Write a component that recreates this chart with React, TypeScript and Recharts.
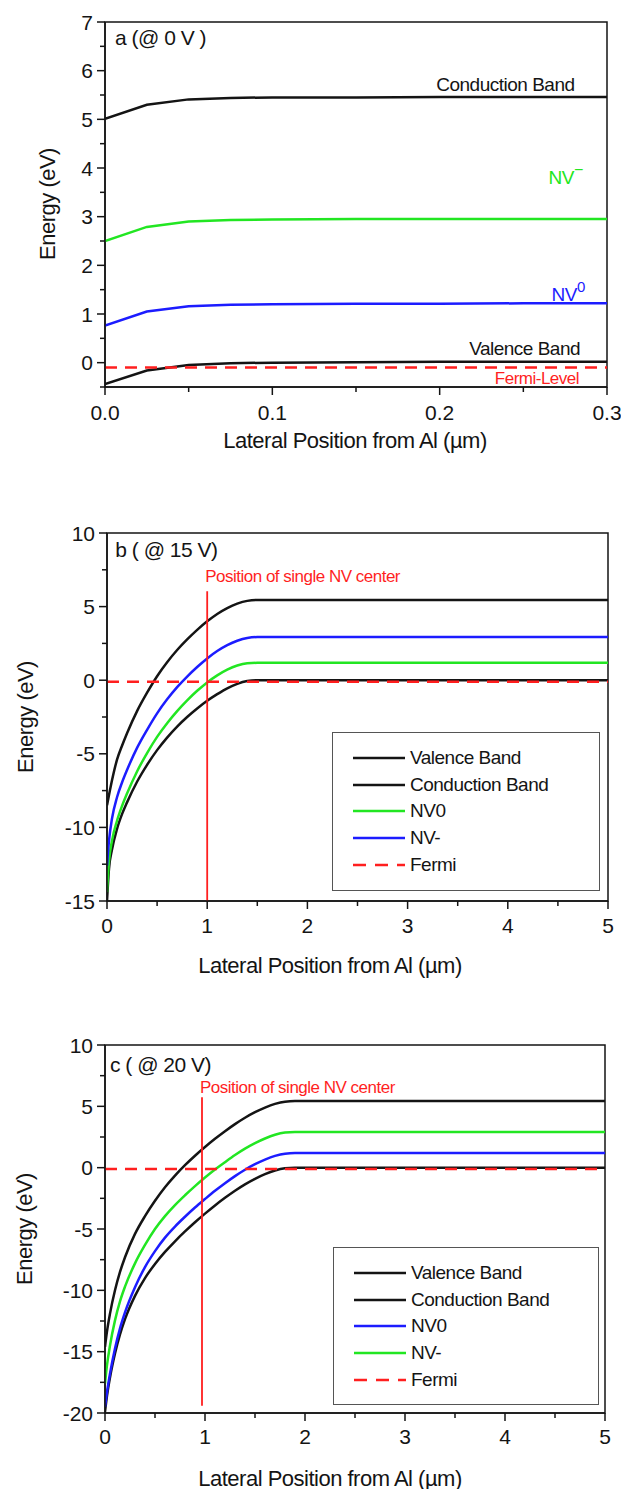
import React from 'react';
import { LineChart, Line, XAxis, YAxis, ReferenceArea, ReferenceDot, ReferenceLine, Legend } from 'recharts';

const FONT = '"Liberation Sans", Arial, Helvetica, sans-serif';
const INK = '#141414';
const GREEN = '#22e622';
const BLUE = '#1c1cff';
const RED = '#ff1f1f';

// ---- a (@ 0 V) ----
const posA = [0, 0.025, 0.05, 0.075, 0.1, 0.15, 0.2, 0.25, 0.3];
const cbA = [5.01, 5.3, 5.41, 5.44, 5.45, 5.45, 5.46, 5.46, 5.46];
const nvmA = [2.5, 2.79, 2.9, 2.93, 2.94, 2.95, 2.95, 2.95, 2.95];
const nv0A = [0.76, 1.05, 1.16, 1.19, 1.2, 1.21, 1.21, 1.22, 1.22];
const vbA = [-0.44, -0.16, -0.05, -0.01, 0, 0.01, 0.02, 0.02, 0.02];
const fermiA = [-0.1, -0.1, -0.1, -0.1, -0.1, -0.1, -0.1, -0.1, -0.1];

// ---- b (@ 15 V) ----
const posB = [0, 0.02, 0.05, 0.1, 0.15, 0.2, 0.3, 0.4, 0.5, 0.6, 0.7, 0.8, 0.9, 1.0, 1.1, 1.2, 1.3, 1.4, 1.5, 2, 3, 4, 5];
const cbB = [-8.5, -7.8, -6.8, -5.4, -4.45, -3.6, -2.1, -0.85, 0.27, 1.22, 2.05, 2.77, 3.42, 4.0, 4.5, 4.9, 5.2, 5.39, 5.45, 5.45, 5.45, 5.45, 5.45];
const nvmB = [-12.6, -10.9, -9.4, -7.95, -6.95, -6.1, -4.6, -3.37, -2.25, -1.3, -0.47, 0.25, 0.9, 1.48, 1.98, 2.38, 2.68, 2.87, 2.93, 2.93, 2.93, 2.93, 2.93];
const nv0B = [-14.4, -12.3, -10.9, -9.55, -8.55, -7.7, -6.2, -4.95, -3.85, -2.92, -2.1, -1.37, -0.72, -0.15, 0.33, 0.72, 1.0, 1.15, 1.18, 1.18, 1.18, 1.18, 1.18];
const vbB = [-15.0, -12.8, -11.5, -10.1, -9.1, -8.3, -6.9, -5.75, -4.75, -3.9, -3.15, -2.5, -1.92, -1.4, -0.95, -0.55, -0.25, -0.06, 0, 0, 0, 0, 0];
const fermiB = [-0.1, -0.1, -0.1, -0.1, -0.1, -0.1, -0.1, -0.1, -0.1, -0.1, -0.1, -0.1, -0.1, -0.1, -0.1, -0.1, -0.1, -0.1, -0.1, -0.1, -0.1, -0.1, -0.1];

// ---- c (@ 20 V) ----
const posC = [0, 0.02, 0.05, 0.1, 0.15, 0.2, 0.3, 0.4, 0.5, 0.6, 0.7, 0.8, 0.9, 1.0, 1.1, 1.2, 1.3, 1.4, 1.5, 1.6, 1.7, 1.8, 1.9, 2, 3, 4, 5];
const cbC = [-14.6, -13.35, -11.9, -10.0, -8.5, -7.3, -5.4, -3.95, -2.7, -1.6, -0.65, 0.2, 0.97, 1.68, 2.35, 2.97, 3.55, 4.07, 4.52, 4.9, 5.2, 5.38, 5.43, 5.43, 5.43, 5.43, 5.43];
const nvmC = [-17.6, -16.1, -14.5, -12.45, -10.9, -9.7, -7.8, -6.3, -5.0, -3.95, -3.05, -2.25, -1.5, -0.8, -0.15, 0.45, 1.03, 1.55, 2.0, 2.38, 2.68, 2.86, 2.91, 2.91, 2.91, 2.91, 2.91];
const nv0C = [-19.5, -18.3, -16.8, -14.75, -13.1, -11.8, -9.75, -8.1, -6.8, -5.7, -4.8, -4.0, -3.25, -2.56, -1.89, -1.27, -0.69, -0.17, 0.28, 0.66, 0.96, 1.14, 1.19, 1.19, 1.19, 1.19, 1.19];
const vbC = [-19.9, -18.6, -17.1, -15.15, -13.6, -12.35, -10.45, -9.0, -7.85, -6.87, -6.0, -5.2, -4.45, -3.75, -3.08, -2.46, -1.88, -1.36, -0.91, -0.53, -0.23, -0.05, 0, 0, 0, 0, 0];
const fermiC = [-0.1, -0.1, -0.1, -0.1, -0.1, -0.1, -0.1, -0.1, -0.1, -0.1, -0.1, -0.1, -0.1, -0.1, -0.1, -0.1, -0.1, -0.1, -0.1, -0.1, -0.1, -0.1, -0.1, -0.1, -0.1, -0.1, -0.1];

// ticks
const xTicksA = [0, 0.05, 0.1, 0.15, 0.2, 0.25, 0.3];
const xMajorA = [0, 0.1, 0.2, 0.3];
const yTicksA = [-0.5, 0, 0.5, 1, 1.5, 2, 2.5, 3, 3.5, 4, 4.5, 5, 5.5, 6, 6.5, 7];
const yMajorA = [0, 1, 2, 3, 4, 5, 6, 7];
const xTicksBC = [0, 0.5, 1, 1.5, 2, 2.5, 3, 3.5, 4, 4.5, 5];
const xMajorBC = [0, 1, 2, 3, 4, 5];
const yTicksB = [-15, -12.5, -10, -7.5, -5, -2.5, 0, 2.5, 5, 7.5, 10];
const yMajorB = [-15, -10, -5, 0, 5, 10];
const yTicksC = [-20, -17.5, -15, -12.5, -10, -7.5, -5, -2.5, 0, 2.5, 5, 7.5, 10];
const yMajorC = [-20, -15, -10, -5, 0, 5, 10];

const legendB = [
  { name: 'Valence Band', color: INK },
  { name: 'Conduction Band', color: INK },
  { name: 'NV0', color: GREEN },
  { name: 'NV-', color: BLUE },
  { name: 'Fermi', color: RED, dash: '13 9' },
];
const legendC = [
  { name: 'Valence Band', color: INK },
  { name: 'Conduction Band', color: INK },
  { name: 'NV0', color: BLUE },
  { name: 'NV-', color: GREEN },
  { name: 'Fermi', color: RED, dash: '13 9' },
];

const toRows = (xs: number[], vb: number[], cb: number[], nv0: number[], nvm: number[], fermi: number[]) =>
  xs.map((x, i) => ({ x, vb: vb[i], cb: cb[i], nv0: nv0[i], nvm: nvm[i], fermi: fermi[i] }));

const near = (list: number[], v: number) => list.some((m) => Math.abs(m - v) < 1e-6);

const xTick = (major: number[], digits: number, dy: number) => (p: any) => {
  const v = p.payload.value;
  const big = near(major, v);
  return (
    <g>
      <line x1={p.x} x2={p.x} y1={p.y} y2={p.y + (big ? 8 : 5)} stroke={INK} strokeWidth={1.5} />
      {big && (
        <text x={p.x} y={p.y + dy} textAnchor="middle" dominantBaseline="central" fontSize={21} fontFamily={FONT} fill={INK}>
          {v.toFixed(digits)}
        </text>
      )}
    </g>
  );
};

const yTick = (major: number[]) => (p: any) => {
  const v = p.payload.value;
  const big = near(major, v);
  return (
    <g>
      <line x1={p.x - (big ? 8 : 5)} x2={p.x} y1={p.y} y2={p.y} stroke={INK} strokeWidth={1.5} />
      {big && (
        <text x={p.x - 12} y={p.y} textAnchor="end" dominantBaseline="central" fontSize={21} fontFamily={FONT} fill={INK}>
          {v}
        </text>
      )}
    </g>
  );
};

const note = (content: React.ReactNode, color: string, size: number, anchor: string) => (p: any) => {
  const vb = p.viewBox || { x: 0, y: 0, width: 0, height: 0 };
  return (
    <text
      x={vb.x + (vb.width || 0) / 2}
      y={vb.y + (vb.height || 0) / 2}
      dy="0.35em"
      textAnchor={anchor}
      fill={color}
      fontSize={size}
      fontFamily={FONT}
      letterSpacing={-0.5}
    >
      {content}
    </text>
  );
};

const legendBox = (items: { name: string; color: string; dash?: string }[], w: number, h: number) => () => (
  <div style={{ width: w, height: h, border: '1.5px solid #555', boxSizing: 'border-box', background: '#fff', position: 'relative' }}>
    {items.map((it, i) => (
      <div key={it.name} style={{ position: 'absolute', left: 20, top: 13 + i * 26.7, height: 24, display: 'flex', alignItems: 'center' }}>
        <svg width={52} height={6}>
          <line x1={0} x2={52} y1={3} y2={3} stroke={it.color} strokeWidth={2.5} strokeDasharray={it.dash} />
        </svg>
        <span style={{ marginLeft: 5, fontSize: 19, letterSpacing: -0.5, fontFamily: FONT, color: INK, lineHeight: '24px' }}>{it.name}</span>
      </div>
    ))}
  </div>
);

type PanelProps = {
  top: number;
  height: number;
  margin: { top: number; right: number; left: number; bottom: number };
  yWidth: number;
  xHeight: number;
  rows: any[];
  xDomain: [number, number];
  yDomain: [number, number];
  xTicks: number[];
  xMajor: number[];
  xDigits: number;
  yTicks: number[];
  yMajor: number[];
  tickDy: number;
  xLabelX: number;
  xLabelY: number;
  yLabelX: number;
  yLabelY: number;
  nv0Color: string;
  nvmColor: string;
  curve: 'linear' | 'monotone';
  children?: React.ReactNode;
};

function Panel(props: PanelProps) {
  const { top, height, margin, yWidth, xHeight, rows, xDomain, yDomain, xTicks, xMajor, xDigits, yTicks, yMajor, tickDy } = props;
  return (
    <div style={{ position: 'absolute', left: 0, top }}>
      <LineChart width={621} height={height} data={rows} margin={margin}>
        <XAxis
          dataKey="x"
          type="number"
          domain={xDomain}
          ticks={xTicks}
          interval={0}
          tickSize={0}
          tickMargin={0}
          tick={xTick(xMajor, xDigits, tickDy)}
          axisLine={{ stroke: INK, strokeWidth: 1.5 }}
          height={xHeight}
          allowDataOverflow
          label={() => (
            <text x={props.xLabelX} y={props.xLabelY} textAnchor="middle" dominantBaseline="central" fontSize={22} letterSpacing={-0.5} fontFamily={FONT} fill={INK}>
              Lateral Position from Al (µm)
            </text>
          )}
        />
        <YAxis
          type="number"
          domain={yDomain}
          ticks={yTicks}
          interval={0}
          tickSize={0}
          tickMargin={0}
          tick={yTick(yMajor)}
          axisLine={{ stroke: INK, strokeWidth: 1.5 }}
          width={yWidth}
          allowDataOverflow
          label={() => (
            <text
              transform={`translate(${props.yLabelX},${props.yLabelY}) rotate(-90)`}
              textAnchor="middle"
              dominantBaseline="central"
              fontSize={22}
              letterSpacing={-0.5}
              fontFamily={FONT}
              fill={INK}
            >
              Energy (eV)
            </text>
          )}
        />
        <ReferenceArea
          x1={xDomain[0]}
          x2={xDomain[1]}
          y1={yDomain[0]}
          y2={yDomain[1]}
          fill="#fff"
          fillOpacity={0}
          stroke={INK}
          strokeWidth={1.5}
          ifOverflow="visible"
        />
        <Line dataKey="vb" type={props.curve} stroke={INK} strokeWidth={2.5} dot={false} activeDot={false} isAnimationActive={false} />
        <Line dataKey="cb" type={props.curve} stroke={INK} strokeWidth={2.5} dot={false} activeDot={false} isAnimationActive={false} />
        <Line dataKey="nv0" type={props.curve} stroke={props.nv0Color} strokeWidth={2.5} dot={false} activeDot={false} isAnimationActive={false} />
        <Line dataKey="nvm" type={props.curve} stroke={props.nvmColor} strokeWidth={2.5} dot={false} activeDot={false} isAnimationActive={false} />
        <Line dataKey="fermi" type="linear" stroke={RED} strokeWidth={2.5} strokeDasharray="12 8" dot={false} activeDot={false} isAnimationActive={false} />
        {props.children}
      </LineChart>
    </div>
  );
}

export default function App() {
  const rowsA = toRows(posA, vbA, cbA, nv0A, nvmA, fermiA);
  const rowsB = toRows(posB, vbB, cbB, nv0B, nvmB, fermiB);
  const rowsC = toRows(posC, vbC, cbC, nv0C, nvmC, fermiC);

  return (
    <div style={{ position: 'absolute', left: 0, top: 0, width: 621, height: 1489, background: '#fff' }}>
      {/* a */}
      <Panel
        top={0}
        height={460}
        margin={{ top: 22, right: 14, left: 0, bottom: 13 }}
        yWidth={105}
        xHeight={60}
        rows={rowsA}
        xDomain={[0, 0.3]}
        yDomain={[-0.5, 7]}
        xTicks={xTicksA}
        xMajor={xMajorA}
        xDigits={1}
        yTicks={yTicksA}
        yMajor={yMajorA}
        tickDy={25}
        xLabelX={355}
        xLabelY={440}
        yLabelX={47}
        yLabelY={204}
        nv0Color={BLUE}
        nvmColor={GREEN}
        curve="linear"
      >
        <ReferenceDot x={0.006} y={6.67} r={0} fill="none" stroke="none" label={note('a (@ 0 V )', INK, 21, 'start')} />
        <ReferenceDot x={0.2806} y={5.71} r={0} fill="none" stroke="none" label={note('Conduction Band', INK, 19, 'end')} />
        <ReferenceDot
          x={0.2855}
          y={3.8}
          r={0}
          fill="none"
          stroke="none"
          label={note(<>NV<tspan dy={-9} fontSize={16}>−</tspan></>, GREEN, 19, 'end')}
        />
        <ReferenceDot
          x={0.2867}
          y={1.41}
          r={0}
          fill="none"
          stroke="none"
          label={note(<>NV<tspan dy={-9} fontSize={15}>0</tspan></>, BLUE, 19, 'end')}
        />
        <ReferenceDot x={0.2839} y={0.29} r={0} fill="none" stroke="none" label={note('Valence Band', INK, 19, 'end')} />
        <ReferenceDot x={0.2833} y={-0.31} r={0} fill="none" stroke="none" label={note('Fermi-Level', RED, 17, 'end')} />
      </Panel>

      {/* b */}
      <Panel
        top={500}
        height={490}
        margin={{ top: 33, right: 13, left: 0, bottom: 14 }}
        yWidth={107}
        xHeight={75}
        rows={rowsB}
        xDomain={[0, 5]}
        yDomain={[-15, 10]}
        xTicks={xTicksBC}
        xMajor={xMajorBC}
        xDigits={0}
        yTicks={yTicksB}
        yMajor={yMajorB}
        tickDy={24}
        xLabelX={330}
        xLabelY={465}
        yLabelX={25}
        yLabelY={217}
        nv0Color={GREEN}
        nvmColor={BLUE}
        curve="monotone"
      >
        <ReferenceLine segment={[{ x: 1, y: -15 }, { x: 1, y: 6.05 }]} stroke={RED} strokeWidth={1.8} />
        <ReferenceDot x={0.083} y={8.9} r={0} fill="none" stroke="none" label={note('b ( @ 15 V)', INK, 21, 'start')} />
        <ReferenceDot x={0.98} y={7.05} r={0} fill="none" stroke="none" label={note('Position of single NV center', RED, 17, 'start')} />
        <Legend
          layout="vertical"
          align="center"
          verticalAlign="middle"
          wrapperStyle={{ left: 332, top: 232, width: 268, height: 159 }}
          content={legendBox(legendB, 268, 159)}
        />
      </Panel>

      {/* c */}
      <Panel
        top={1010}
        height={479}
        margin={{ top: 35, right: 16, left: 0, bottom: 6 }}
        yWidth={105}
        xHeight={70}
        rows={rowsC}
        xDomain={[0, 5]}
        yDomain={[-20, 10]}
        xTicks={xTicksBC}
        xMajor={xMajorBC}
        xDigits={0}
        yTicks={yTicksC}
        yMajor={yMajorC}
        tickDy={23}
        xLabelX={330}
        xLabelY={468}
        yLabelX={24}
        yLabelY={219}
        nv0Color={BLUE}
        nvmColor={GREEN}
        curve="monotone"
      >
        <ReferenceLine segment={[{ x: 0.97, y: -19.4 }, { x: 0.97, y: 5.75 }]} stroke={RED} strokeWidth={1.8} />
        <ReferenceDot x={0.05} y={8.42} r={0} fill="none" stroke="none" label={note('c ( @ 20 V)', INK, 21, 'start')} />
        <ReferenceDot x={0.95} y={6.57} r={0} fill="none" stroke="none" label={note('Position of single NV center', RED, 17, 'start')} />
        <Legend
          layout="vertical"
          align="center"
          verticalAlign="middle"
          wrapperStyle={{ left: 333, top: 237, width: 266, height: 158 }}
          content={legendBox(legendC, 266, 158)}
        />
      </Panel>
    </div>
  );
}
